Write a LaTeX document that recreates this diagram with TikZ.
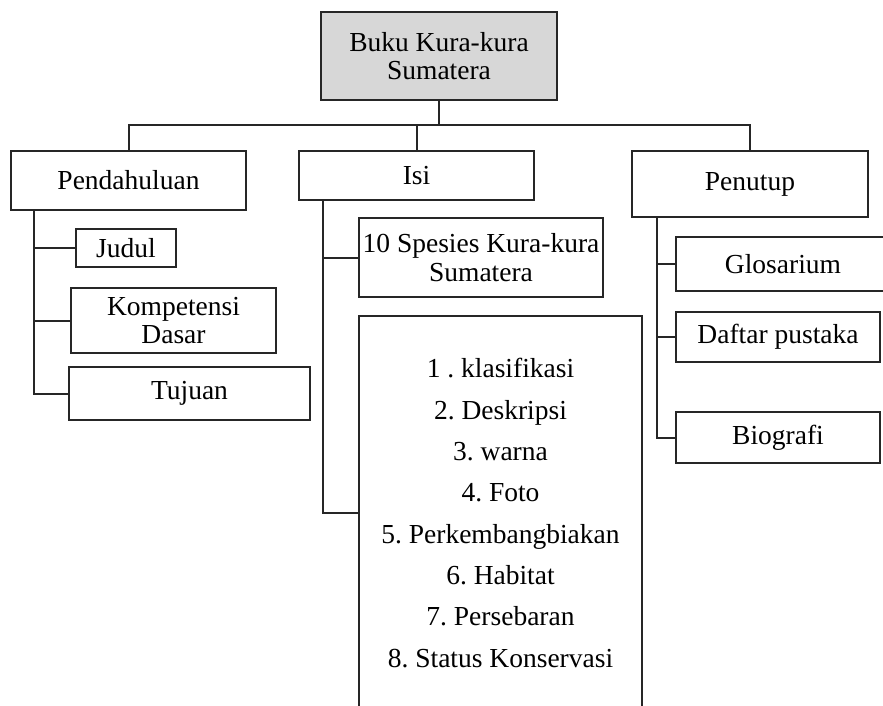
\documentclass[tikz,border=0pt]{standalone}
\usepackage{fontspec}
\setmainfont{Liberation Serif}
\frenchspacing
\definecolor{rootgray}{RGB}{215,215,215}
\begin{document}
\begin{tikzpicture}[x=1pt,y=-1pt,
  box/.style={draw=black!85, line width=2pt, inner sep=0pt, align=center, font=\fontsize{27.5}{28.5}\selectfont},
  conn/.style={draw=black!85, line width=2pt}]
\useasboundingbox (0,0) rectangle (883,706);
\clip (0,0) rectangle (883,706);
% root
\node[box, fill=rootgray, minimum width=236, minimum height=88] (root) at (439,56) {Buku Kura-kura\\Sumatera};
% level 1
\node[box, minimum width=235, minimum height=59] (pend) at (128.5,180.5) {Pendahuluan};
\node[box, minimum width=235, minimum height=49] (isi) at (416.5,175.5) {Isi};
\node[box, minimum width=236, minimum height=66] (penutup) at (750,184) {Penutup};
% Pendahuluan children
\node[box, minimum width=100, minimum height=38] (judul) at (126,248) {Judul};
\node[box, minimum width=205, minimum height=65] (komp) at (173.5,320.5) {Kompetensi\\Dasar};
\node[box, minimum width=241, minimum height=53] (tujuan) at (189.5,393.5) {Tujuan};
% Isi children
\node[box, minimum width=244, minimum height=79] (spesies) at (481,257.5) {10 Spesies Kura-kura\\Sumatera};
\node[box, minimum width=283, minimum height=394, font=\fontsize{27.5}{41.3}\selectfont] (list) at (500.5,513)
  {1 . klasifikasi\\2. Deskripsi\\3. warna\\4. Foto\\5. Perkembangbiakan\\6. Habitat\\7. Persebaran\\8. Status Konservasi};
% Penutup children
\node[box, minimum width=214, minimum height=54] (glos) at (783,264) {Glosarium};
\node[box, minimum width=204, minimum height=50] (daftar) at (778,337) {Daftar pustaka};
\node[box, minimum width=204, minimum height=51] (bio) at (778,437.5) {Biografi};
% top bar
\coordinate (bar) at (0,125);
\draw[conn] (pend.north) -- (pend.north |- bar) -- (penutup.north |- bar) -- (penutup.north);
\draw[conn] (isi.north) -- (isi.north |- bar);
\draw[conn] (root.south) -- (root.south |- bar);
% Pendahuluan branch
\coordinate (tp) at (34,210);
\draw[conn] (tp) |- (tujuan.west);
\draw[conn] (tp |- judul.west) -- (judul.west);
\draw[conn] (tp |- komp.west) -- (komp.west);
% Isi branch
\coordinate (ti) at (323,200);
\draw[conn] (ti) |- (list.west);
\draw[conn] (ti |- spesies.west) -- (spesies.west);
% Penutup branch
\coordinate (tq) at (657,217);
\draw[conn] (tq) |- (bio.west);
\draw[conn] (tq |- glos.west) -- (glos.west);
\draw[conn] (tq |- daftar.west) -- (daftar.west);
\end{tikzpicture}
\end{document}
